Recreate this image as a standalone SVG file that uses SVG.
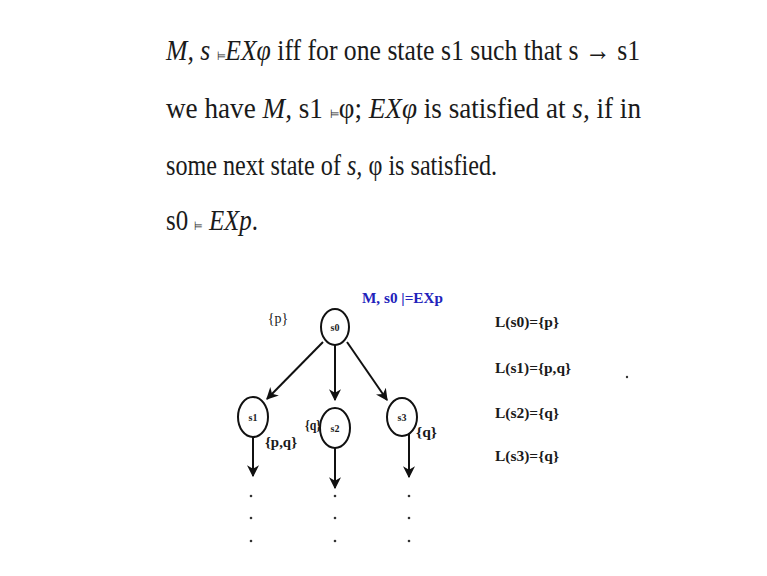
<svg xmlns="http://www.w3.org/2000/svg" width="767" height="576" viewBox="0 0 767 576">
<style>
.t{font-family:"Liberation Serif","Times New Roman",serif;font-size:30px;fill:#1a1a1a}
.i{font-style:italic}
.m{font-size:12px}
.lb{font-family:"Liberation Serif","Times New Roman",serif;font-weight:bold;font-size:14px;fill:#1a1a1a}
.nl{font-family:"Liberation Serif","Times New Roman",serif;font-weight:bold;font-size:10px;fill:#1a1a1a;text-anchor:middle}
.nd{fill:#fff;stroke:#111;stroke-width:2}
.e{stroke:#111;stroke-width:2;fill:none;marker-end:url(#ah)}
.d{fill:#333}
</style>
<defs>
<marker id="ah" viewBox="0 0 10 10" refX="9" refY="5" markerWidth="6" markerHeight="6" orient="auto" markerUnits="strokeWidth">
<path d="M0,0 L10,5 L0,10 L3,5 z" fill="#111"/>
</marker>
</defs>
<rect width="767" height="576" fill="#fff"/>
<g id="text">
<text class="t" x="166" y="60" textLength="474" lengthAdjust="spacingAndGlyphs"><tspan class="i">M, s </tspan><tspan class="m">⊨</tspan><tspan class="i">EXφ</tspan> iff for one state s1 such that s → s1</text>
<text class="t" x="166" y="118" textLength="475" lengthAdjust="spacingAndGlyphs">we have <tspan class="i">M,</tspan> s1 <tspan class="m">⊨</tspan>φ; <tspan class="i">EXφ</tspan>  is satisfied at <tspan class="i">s,</tspan> if in</text>
<text class="t" x="166" y="175" textLength="331" lengthAdjust="spacingAndGlyphs">some next state of <tspan class="i">s,</tspan> φ is satisfied.</text>
<text class="t" x="166" y="230" textLength="92" lengthAdjust="spacingAndGlyphs">s0 <tspan class="m">⊨</tspan> <tspan class="i">EXp</tspan>.</text>
</g>
<g id="connectors">
<line class="e" x1="323" y1="342" x2="267" y2="399"/>
<line class="e" x1="335" y1="345" x2="335" y2="400"/>
<line class="e" x1="347" y1="342" x2="387" y2="400"/>
<line class="e" x1="253" y1="437" x2="253" y2="476"/>
<line class="e" x1="335" y1="448" x2="335" y2="488"/>
<line class="e" x1="409" y1="434" x2="409" y2="477"/>
</g>
<g id="s0"><ellipse class="nd" cx="335" cy="327" rx="14" ry="18"/><text class="nl" x="335" y="331">s0</text></g>
<g id="s1"><ellipse class="nd" cx="253" cy="417" rx="15" ry="20"/><text class="nl" x="253" y="421">s1</text></g>
<g id="s2"><ellipse class="nd" cx="335" cy="428" rx="15" ry="20"/><text class="nl" x="335" y="432">s2</text></g>
<g id="s3"><ellipse class="nd" cx="402" cy="417" rx="15" ry="19"/><text class="nl" x="402" y="421">s3</text></g>
<g id="labels">
<text class="lb" x="278" y="323" text-anchor="middle" style="font-weight:normal">{p}</text>
<text class="lb" x="362" y="303" style="fill:#2222bb" textLength="81" lengthAdjust="spacingAndGlyphs">M, s0 |=EXp</text>
<text class="lb" x="265" y="447" textLength="32" lengthAdjust="spacingAndGlyphs">{p,q}</text>
<text class="lb" x="305" y="430" textLength="16" lengthAdjust="spacingAndGlyphs">{q}</text>
<text class="lb" x="416" y="437" textLength="21" lengthAdjust="spacingAndGlyphs">{q}</text>
<text class="lb" x="495" y="327" textLength="64" lengthAdjust="spacingAndGlyphs">L(s0)={p}</text>
<text class="lb" x="495" y="373" textLength="76" lengthAdjust="spacingAndGlyphs">L(s1)={p,q}</text>
<text class="lb" x="495" y="418" textLength="64" lengthAdjust="spacingAndGlyphs">L(s2)={q}</text>
<text class="lb" x="495" y="461" textLength="64" lengthAdjust="spacingAndGlyphs">L(s3)={q}</text>
</g>
<g id="dots">
<circle class="d" cx="251" cy="496" r="1.3"/><circle class="d" cx="251" cy="518" r="1.3"/><circle class="d" cx="251" cy="541" r="1.3"/>
<circle class="d" cx="335" cy="496" r="1.3"/><circle class="d" cx="335" cy="518" r="1.3"/><circle class="d" cx="335" cy="541" r="1.3"/>
<circle class="d" cx="409" cy="496" r="1.3"/><circle class="d" cx="409" cy="518" r="1.3"/><circle class="d" cx="409" cy="541" r="1.3"/>
<circle class="d" cx="627" cy="377" r="1.2"/>
</g>
</svg>
